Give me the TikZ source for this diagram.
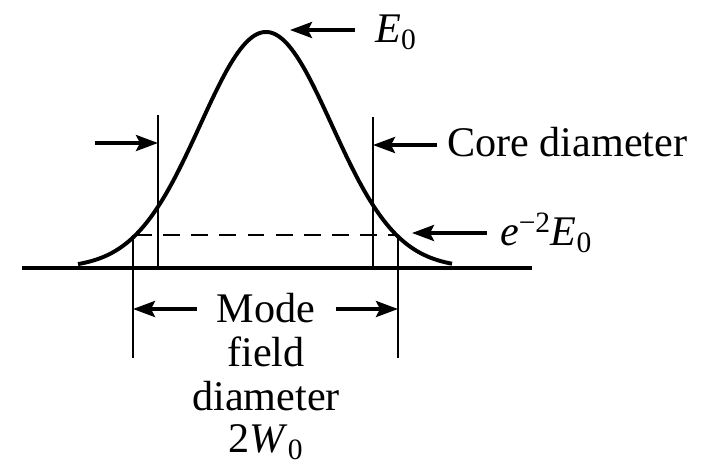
\documentclass[tikz,border=0pt]{standalone}
\usepackage{fontspec}
\setmainfont{Liberation Serif}
\usetikzlibrary{arrows.meta,positioning}
\tikzset{
  pointer/.style={-{Stealth[length=5.5mm,width=4mm,inset=1mm]}, line width=2.5pt},
  guide/.style={line width=1.6pt},
  profile/.style={line width=2.8pt},
  lbl/.style={font=\fontsize{30}{32}\selectfont, inner ysep=0pt},
}

\begin{document}
\begin{tikzpicture}[x=0.025cm, y=-0.025cm, line cap=butt, line join=round]
  \useasboundingbox (0,0) rectangle (707,469);

  % Axis and the Gaussian field profile.
  \draw[profile] (22,268) -- (532,268);
  \draw[profile, domain=78:452, samples=160, smooth]
    plot (\x, {268-236*exp(-((\x-266)/93)*((\x-266)/93))});

  % Core edges and the mode field edges.
  \coordinate (coreL) at (158,143);
  \coordinate (coreR) at (373,145);
  \coordinate (mfdL) at (133,309);
  \coordinate (mfdR) at (398,309);
  \coordinate (peak) at (290,30);
  \coordinate (levelR) at (412,233);
  \draw[guide] (158,115) -- (158,268);
  \draw[guide] (373,117) -- (373,268);
  \draw[guide] (133,235) -- (133,358);
  \draw[guide] (398,235) -- (398,358);
  \draw[guide, dash pattern=on 12pt off 8pt] (135,235) -- (398,235);

  % Labels.
  \node[lbl, anchor=base west, inner xsep=5mm] (peaklbl) at (355,42)
    {\textit{E}\textsubscript{0}};
  \node[lbl, anchor=base west, inner xsep=2.5mm] (corelbl) at (437,156)
    {Core diameter};
  \node[lbl, anchor=base west, inner xsep=3.2mm] (levellbl) at (487,245)
    {\textit{e}\textsuperscript{−2}\textit{E}\textsubscript{0}};
  \node[lbl, anchor=base, inner xsep=5mm] (mode) at (266,322) {Mode};
  \node[lbl, anchor=base] (fieldtxt) at (266,366) {field};
  \node[lbl, anchor=base] (diamtxt) at (266,410) {diameter};
  \node[lbl, anchor=base] (widthtxt) at (266,452)
    {2\textit{W}\textsubscript{0}};

  % Pointers.
  \draw[pointer] (peaklbl.west |- peak) -- (peak);
  \draw[pointer] (corelbl.west |- coreR) -- (coreR);
  \draw[pointer] (95,143) -- (coreL);
  \draw[pointer] (levellbl.west |- levelR) -- (levelR);
  \draw[pointer] (mode.west |- mfdL) -- (mfdL);
  \draw[pointer] (mode.east |- mfdR) -- (mfdR);
\end{tikzpicture}
\end{document}
